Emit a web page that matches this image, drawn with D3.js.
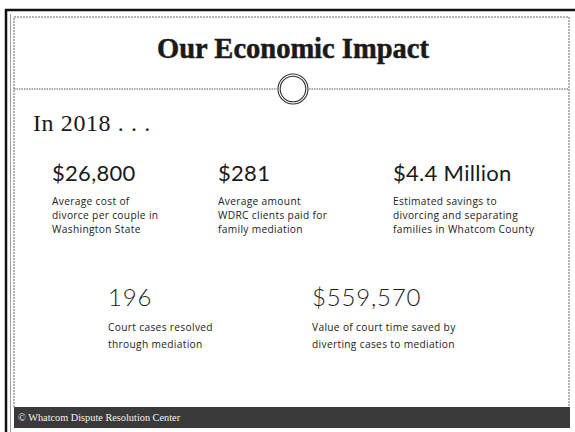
<!DOCTYPE html>
<html>
<head>
<meta charset="utf-8">
<script src="https://cdn.jsdelivr.net/npm/d3@7"></script>
<style>
  html, body { margin: 0; padding: 0; background: #fff; }
  #slide { width: 575px; height: 432px; }
</style>
</head>
<body>
<div id="slide"></div>
<script>
// contenu de la diapositive
const title = "Our Economic Impact";
const intro = "In 2018 . . .";
const footer = "\u00a9 Whatcom Dispute Resolution Center";

const topValues = ["$26,800", "$281", "$4.4 Million"];
const topLabels = [
    ["Average cost of", "divorce per couple in", "Washington State"],
    ["Average amount", "WDRC clients paid for", "family mediation"],
    ["Estimated savings to", "divorcing and separating", "families in Whatcom County"]
];
const bottomValues = ["196", "$559,570"];
const bottomLabels = [
    ["Court cases resolved", "through mediation"],
    ["Value of court time saved by", "diverting cases to mediation"]
];

const width = 575, height = 432;
const svg = d3.select("#slide").append("svg")
    .attr("width", width)
    .attr("height", height);

// cadre extérieur
svg.append("line").attr("x1", 6).attr("x2", 6).attr("y1", 9).attr("y2", height)
    .attr("stroke", "#111").attr("stroke-width", 2.5);
svg.append("line").attr("x1", 5).attr("x2", width).attr("y1", 10).attr("y2", 10)
    .attr("stroke", "#111").attr("stroke-width", 2.5);
svg.append("line").attr("x1", 10.5).attr("x2", 10.5).attr("y1", 14).attr("y2", height)
    .attr("stroke", "#888").attr("stroke-width", 0.8);

// cadre intérieur pointillé
const box = { x0: 14, x1: 569, y0: 17, y1: 407 };
svg.append("path")
    .attr("d", `M${box.x0},${box.y1} V${box.y0} H${box.x1} V${box.y1}`)
    .attr("fill", "none")
    .attr("stroke", "#666")
    .attr("stroke-width", 1)
    .attr("stroke-dasharray", "2,1");

// titre
svg.append("text")
    .attr("x", 293).attr("y", 58)
    .attr("text-anchor", "middle")
    .attr("font-family", "Liberation Serif, serif")
    .attr("font-weight", "bold")
    .attr("font-size", 28.5)
    .attr("fill", "#1a1a1a")
    .attr("stroke", "#1a1a1a")
    .attr("stroke-width", 0.5)
    .text(title);

// séparateur avec cercle
const cx = 293, cy = 89;
svg.append("line").attr("x1", box.x0).attr("x2", cx - 16).attr("y1", cy).attr("y2", cy)
    .attr("stroke", "#555").attr("stroke-width", 1).attr("stroke-dasharray", "1.5,1");
svg.append("line").attr("x1", cx + 16).attr("x2", box.x1).attr("y1", cy).attr("y2", cy)
    .attr("stroke", "#555").attr("stroke-width", 1).attr("stroke-dasharray", "1.5,1");
svg.append("circle").attr("cx", cx).attr("cy", cy).attr("r", 15)
    .attr("fill", "#fff").attr("stroke", "#333").attr("stroke-width", 1.1);
svg.append("circle").attr("cx", cx).attr("cy", cy).attr("r", 12.8)
    .attr("fill", "none").attr("stroke", "#333").attr("stroke-width", 1.1);

// "In 2018 . . ."
svg.append("text")
    .attr("x", 33).attr("y", 131)
    .attr("font-family", "Liberation Serif, serif")
    .attr("font-size", 24)
    .attr("letter-spacing", 0.6)
    .attr("fill", "#1a1a1a")
    .text(intro);

// fonction pour dessiner un groupe de chiffres
function drawStats(values, labels, xs, yValue, yLabel, lineH, opts) {
    const g = svg.append("g");
    const stat = g.selectAll("g.stat")
        .data(values.map((v, i) => ({ value: v, lines: labels[i], x: xs[i] })))
        .enter().append("g")
        .attr("class", "stat")
        .attr("transform", d => `translate(${d.x},0)`);

    stat.append("text")
        .attr("y", yValue)
        .attr("font-family", "Lato, sans-serif")
        .attr("font-weight", opts.weight)
        .attr("font-size", opts.size)
        .attr("letter-spacing", opts.spacing)
        .attr("fill", "#1a1a1a")
        .text(d => d.value);

    stat.append("text")
        .attr("font-family", "Open Sans, sans-serif")
        .attr("font-size", 10.2)
        .attr("letter-spacing", 0.33)
        .attr("fill", "#222")
        .selectAll("tspan")
        .data(d => d.lines)
        .enter().append("tspan")
        .attr("x", 0)
        .attr("y", (d, i) => yLabel + i * lineH)
        .text(d => d);
}

drawStats(topValues, topLabels, [52, 218, 393], 181, 205, 14, { weight: 400, size: 22, spacing: 0.3 });
drawStats(bottomValues, bottomLabels, [108, 312], 306, 331, 16.5, { weight: 300, size: 24, spacing: 0.8 });

// bandeau du bas
svg.append("rect")
    .attr("x", box.x0).attr("y", box.y1)
    .attr("width", box.x1 - box.x0 + 1).attr("height", 21)
    .attr("fill", "#3a3a3a");
svg.append("text")
    .attr("x", 18).attr("y", 421)
    .attr("font-family", "Liberation Serif, serif")
    .attr("font-size", 10.3)
    .attr("fill", "#f2f2f2")
    .text(footer);
</script>
</body>
</html>
